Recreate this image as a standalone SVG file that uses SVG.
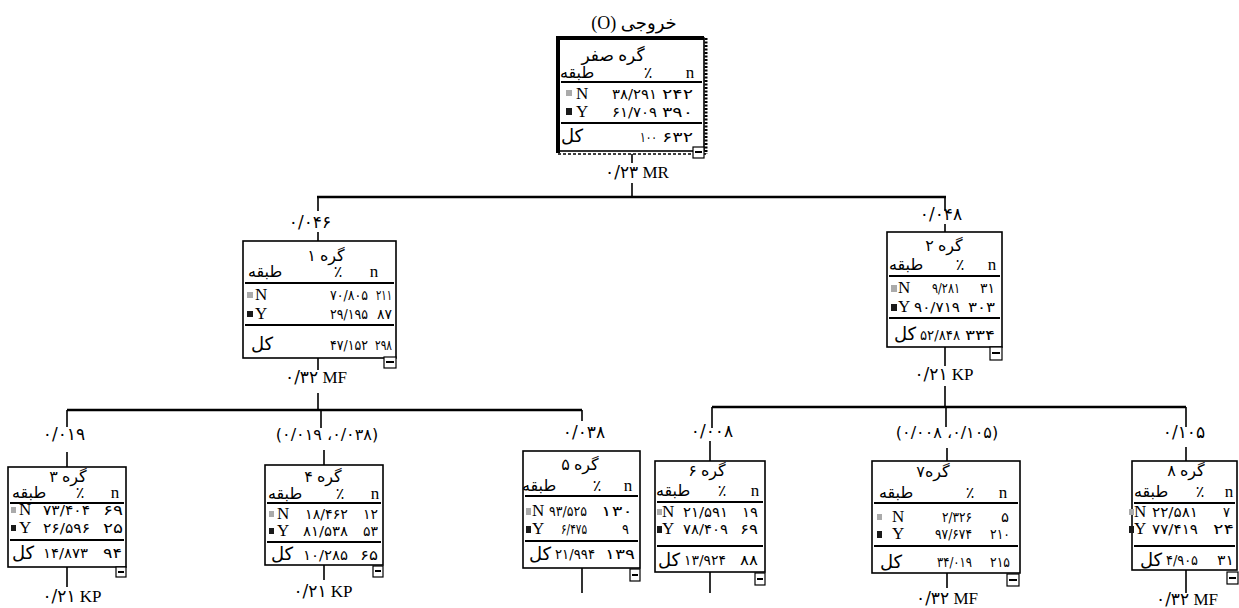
<svg xmlns="http://www.w3.org/2000/svg" width="1239" height="608" viewBox="0 0 1239 608">
<style>
.bx{fill:#fff;stroke:#000;stroke-width:1.6}
.ln{stroke:#000;stroke-width:2.2}
.cn{stroke:#000;stroke-width:1.6;fill:none}
.hz{stroke:#000;stroke-width:2.6;fill:none}
.lat{font-family:"Liberation Serif","DejaVu Sans",serif;font-size:17px;fill:#000}
.fa{font-family:"Liberation Serif","DejaVu Sans",serif;font-size:16px;fill:#000}
.kl{font-family:"Liberation Serif","DejaVu Sans",serif;font-size:18px;fill:#000}
.nm{font-family:"DejaVu Sans",sans-serif;font-size:14px;fill:#000}
.lb{font-family:"Liberation Serif","DejaVu Sans",serif;font-size:17px;fill:#000}
.dg{font-family:"DejaVu Sans",sans-serif;font-size:17px}
.sg{fill:#aaa}
.sb{fill:#1a1a1a}
.mn{fill:#fff;stroke:#000;stroke-width:1.2}
.mb{stroke:#000;stroke-width:2}
</style>

<g id="connectors">
<path class="cn" d="M632 154V163M632 183V197M318 197V211M318 232V241M945 197V211M945 224V232"/>
<path class="hz" d="M317 197H946"/>
<path class="cn" d="M318 358V370M318 393V410M945 347V366M945 386V407"/>
<path class="hz" d="M67 410H582M712 407H1186"/>
<path class="cn" d="M67 410V427M67 452V467M67 567V587"/>
<path class="cn" d="M321 410V428M324 450V465M324 565V580"/>
<path class="cn" d="M582 410V421M582 568V593"/>
<path class="cn" d="M712 407V428M710 441V461M710 572V593"/>
<path class="cn" d="M946 407V427M947 448V461M947 573V588"/>
<path class="cn" d="M1186 407V427M1186 447V461M1186 570V593"/>
</g>

<g id="labels">
<text class="lb" x="634" y="29" text-anchor="middle" direction="rtl" style="font-size:18px">خروجی (O)</text>
<text class="lb" x="637" y="178" text-anchor="middle"><tspan class="dg">۰/۲۳</tspan> MR</text>
<text class="lb dg" x="310" y="228" text-anchor="middle">۰/۰۴۶</text>
<text class="lb dg" x="941" y="220" text-anchor="middle">۰/۰۴۸</text>
<text class="lb" x="316" y="383" text-anchor="middle"><tspan class="dg">۰/۳۲</tspan> MF</text>
<text class="lb" x="944" y="380" text-anchor="middle"><tspan class="dg">۰/۲۱</tspan> KP</text>
<text class="lb dg" x="64" y="440" text-anchor="middle">۰/۰۱۹</text>
<text class="lb dg" x="327" y="440" text-anchor="middle" direction="rtl" style="font-size:16px">(۰/۰۳۸، ۰/۰۱۹)</text>
<text class="lb dg" x="584" y="438" text-anchor="middle">۰/۰۳۸</text>
<text class="lb dg" x="712" y="437" text-anchor="middle">۰/۰۰۸</text>
<text class="lb dg" x="947" y="438" text-anchor="middle" direction="rtl" style="font-size:16px">(۰/۱۰۵، ۰/۰۰۸)</text>
<text class="lb dg" x="1184" y="438" text-anchor="middle">۰/۱۰۵</text>
<text class="lb" x="72" y="602" text-anchor="middle"><tspan class="dg">۰/۲۱</tspan> KP</text>
<text class="lb" x="323" y="597" text-anchor="middle"><tspan class="dg">۰/۲۱</tspan> KP</text>
<text class="lb" x="947" y="604" text-anchor="middle"><tspan class="dg">۰/۳۲</tspan> MF</text>
<text class="lb" x="1187" y="605" text-anchor="middle"><tspan class="dg">۰/۳۲</tspan> MF</text>
</g>

<g id="node0">
<rect class="bx" x="558" y="38" width="146" height="113"/>
<path d="M558 153V38H704" fill="none" stroke="#000" stroke-width="4"/>
<path d="M706 38V154" fill="none" stroke="#000" stroke-width="3" stroke-dasharray="2 1.5"/>
<path d="M558 154H706" fill="none" stroke="#000" stroke-width="1.6" stroke-dasharray="3 2"/>
<text class="fa" x="613" y="61" text-anchor="middle" direction="rtl" style="font-size:17px">گره صفر</text>
<text class="fa" x="577" y="78" text-anchor="middle">طبقه</text>
<text class="fa" x="648" y="78" text-anchor="middle">٪</text>
<text class="lat" x="690" y="78" text-anchor="middle">n</text>
<line class="ln" x1="561" y1="82" x2="702" y2="82"/>
<rect class="sg" x="566" y="90" width="6" height="6"/>
<text class="lat" x="576" y="99">N</text>
<text class="nm" x="612" y="99" textLength="45" lengthAdjust="spacingAndGlyphs">۳۸/۲۹۱</text>
<text class="nm" x="662" y="99" textLength="31" lengthAdjust="spacingAndGlyphs">۲۴۲</text>
<rect class="sb" x="566" y="108" width="6" height="7"/>
<text class="lat" x="576" y="117">Y</text>
<text class="nm" x="612" y="117" textLength="45" lengthAdjust="spacingAndGlyphs">۶۱/۷۰۹</text>
<text class="nm" x="662" y="117" textLength="31" lengthAdjust="spacingAndGlyphs">۳۹۰</text>
<line class="ln" x1="561" y1="123" x2="702" y2="123"/>
<text class="kl" x="572" y="142" text-anchor="middle">کل</text>
<text class="nm" x="640" y="142" textLength="17" lengthAdjust="spacingAndGlyphs">۱۰۰</text>
<text class="nm" x="662" y="142" textLength="31" lengthAdjust="spacingAndGlyphs">۶۳۲</text>
<rect class="mn" x="693" y="147" width="11" height="11"/><line class="mb" x1="695" y1="152" x2="702" y2="152"/>
</g>

<g id="node1">
<rect class="bx" x="243" y="241" width="153" height="117"/>
<text class="fa" x="326" y="261" text-anchor="middle" direction="rtl">گره ۱</text>
<text class="fa" x="265" y="277" text-anchor="middle">طبقه</text>
<text class="fa" x="338" y="277" text-anchor="middle">٪</text>
<text class="lat" x="374" y="277" text-anchor="middle">n</text>
<line class="ln" x1="245" y1="283" x2="394" y2="283"/>
<rect class="sg" x="247" y="292" width="6" height="6"/>
<text class="lat" x="255" y="300">N</text>
<text class="nm" x="330" y="300" textLength="38" lengthAdjust="spacingAndGlyphs">۷۰/۸۰۵</text>
<text class="nm" x="376" y="300" textLength="16" lengthAdjust="spacingAndGlyphs">۲۱۱</text>
<rect class="sb" x="247" y="311" width="6" height="6"/>
<text class="lat" x="255" y="319">Y</text>
<text class="nm" x="330" y="319" textLength="38" lengthAdjust="spacingAndGlyphs">۲۹/۱۹۵</text>
<text class="nm" x="377" y="319" textLength="15" lengthAdjust="spacingAndGlyphs">۸۷</text>
<line class="ln" x1="245" y1="325" x2="394" y2="325"/>
<text class="kl" x="262" y="350" text-anchor="middle">کل</text>
<text class="nm" x="330" y="350" textLength="38" lengthAdjust="spacingAndGlyphs">۴۷/۱۵۲</text>
<text class="nm" x="375" y="350" textLength="17" lengthAdjust="spacingAndGlyphs">۲۹۸</text>
<rect class="mn" x="384" y="357" width="12" height="11"/><line class="mb" x1="386" y1="362" x2="394" y2="362"/>
</g>

<g id="node2">
<rect class="bx" x="887" y="232" width="115" height="115"/>
<text class="fa" x="944" y="251" text-anchor="middle" direction="rtl">گره ۲</text>
<text class="fa" x="906" y="270" text-anchor="middle">طبقه</text>
<text class="fa" x="960" y="270" text-anchor="middle">٪</text>
<text class="lat" x="992" y="270" text-anchor="middle">n</text>
<line class="ln" x1="889" y1="276" x2="1000" y2="276"/>
<rect class="sg" x="891" y="285" width="6" height="7"/>
<text class="lat" x="898" y="293">N</text>
<text class="nm" x="932" y="293" textLength="28" lengthAdjust="spacingAndGlyphs">۹/۲۸۱</text>
<text class="nm" x="980" y="293" textLength="15" lengthAdjust="spacingAndGlyphs">۳۱</text>
<rect class="sb" x="891" y="304" width="6" height="7"/>
<text class="lat" x="898" y="312">Y</text>
<text class="nm" x="914" y="312" textLength="46" lengthAdjust="spacingAndGlyphs">۹۰/۷۱۹</text>
<text class="nm" x="968" y="312" textLength="27" lengthAdjust="spacingAndGlyphs">۳۰۳</text>
<line class="ln" x1="889" y1="318" x2="1000" y2="318"/>
<text class="kl" x="905" y="340" text-anchor="middle">کل</text>
<text class="nm" x="920" y="340" textLength="40" lengthAdjust="spacingAndGlyphs">۵۲/۸۴۸</text>
<text class="nm" x="965" y="340" textLength="30" lengthAdjust="spacingAndGlyphs">۳۳۴</text>
<rect class="mn" x="990" y="347" width="12" height="13"/><line class="mb" x1="992" y1="353" x2="1000" y2="353"/>
</g>

<g id="node3">
<rect class="bx" x="8" y="467" width="118" height="100"/>
<text class="fa" x="68" y="482" text-anchor="middle" direction="rtl">گره ۳</text>
<text class="fa" x="29" y="498" text-anchor="middle">طبقه</text>
<text class="fa" x="80" y="498" text-anchor="middle">٪</text>
<text class="lat" x="115" y="498" text-anchor="middle">n</text>
<line class="ln" x1="10" y1="503" x2="124" y2="503"/>
<rect class="sg" x="11" y="507" width="5" height="6"/>
<text class="lat" x="19" y="515">N</text>
<text class="nm" x="43" y="515" textLength="47" lengthAdjust="spacingAndGlyphs">۷۳/۴۰۴</text>
<text class="nm" x="103" y="515" textLength="20" lengthAdjust="spacingAndGlyphs">۶۹</text>
<rect class="sb" x="11" y="525" width="5" height="6"/>
<text class="lat" x="19" y="533">Y</text>
<text class="nm" x="43" y="533" textLength="47" lengthAdjust="spacingAndGlyphs">۲۶/۵۹۶</text>
<text class="nm" x="103" y="533" textLength="20" lengthAdjust="spacingAndGlyphs">۲۵</text>
<line class="ln" x1="10" y1="540" x2="124" y2="540"/>
<text class="kl" x="23" y="559" text-anchor="middle">کل</text>
<text class="nm" x="43" y="558" textLength="45" lengthAdjust="spacingAndGlyphs">۱۴/۸۷۳</text>
<text class="nm" x="103" y="558" textLength="19" lengthAdjust="spacingAndGlyphs">۹۴</text>
<rect class="mn" x="116" y="567" width="10" height="10"/><line class="mb" x1="118" y1="572" x2="124" y2="572"/>
</g>

<g id="node4">
<rect class="bx" x="265" y="465" width="118" height="100"/>
<text class="fa" x="323" y="482" text-anchor="middle" direction="rtl">گره ۴</text>
<text class="fa" x="285" y="499" text-anchor="middle">طبقه</text>
<text class="fa" x="340" y="499" text-anchor="middle">٪</text>
<text class="lat" x="375" y="499" text-anchor="middle">n</text>
<line class="ln" x1="267" y1="503" x2="381" y2="503"/>
<rect class="sg" x="269" y="511" width="5" height="6"/>
<text class="lat" x="277" y="519">N</text>
<text class="nm" x="305" y="519" textLength="43" lengthAdjust="spacingAndGlyphs">۱۸/۴۶۲</text>
<text class="nm" x="363" y="519" textLength="15" lengthAdjust="spacingAndGlyphs">۱۲</text>
<rect class="sb" x="269" y="528" width="5" height="6"/>
<text class="lat" x="277" y="536">Y</text>
<text class="nm" x="303" y="536" textLength="45" lengthAdjust="spacingAndGlyphs">۸۱/۵۳۸</text>
<text class="nm" x="363" y="536" textLength="15" lengthAdjust="spacingAndGlyphs">۵۳</text>
<line class="ln" x1="267" y1="542" x2="381" y2="542"/>
<text class="kl" x="282" y="560" text-anchor="middle">کل</text>
<text class="nm" x="303" y="560" textLength="45" lengthAdjust="spacingAndGlyphs">۱۰/۲۸۵</text>
<text class="nm" x="360" y="560" textLength="18" lengthAdjust="spacingAndGlyphs">۶۵</text>
<rect class="mn" x="373" y="566" width="10" height="11"/><line class="mb" x1="375" y1="571" x2="381" y2="571"/>
</g>

<g id="node5">
<rect class="bx" x="523" y="451" width="117" height="117"/>
<text class="fa" x="580" y="470" text-anchor="middle" direction="rtl">گره ۵</text>
<text class="fa" x="539" y="491" text-anchor="middle">طبقه</text>
<text class="fa" x="597" y="491" text-anchor="middle">٪</text>
<text class="lat" x="628" y="491" text-anchor="middle">n</text>
<line class="ln" x1="525" y1="496" x2="638" y2="496"/>
<rect class="sg" x="526" y="508" width="5" height="7"/>
<text class="lat" x="532" y="516">N</text>
<text class="nm" x="549" y="516" textLength="38" lengthAdjust="spacingAndGlyphs">۹۳/۵۲۵</text>
<text class="nm" x="601" y="516" textLength="32" lengthAdjust="spacingAndGlyphs">۱۳۰</text>
<rect class="sb" x="526" y="526" width="5" height="7"/>
<text class="lat" x="532" y="534">Y</text>
<text class="nm" x="561" y="534" textLength="26" lengthAdjust="spacingAndGlyphs">۶/۴۷۵</text>
<text class="nm" x="622" y="534" textLength="7" lengthAdjust="spacingAndGlyphs">۹</text>
<line class="ln" x1="525" y1="541" x2="638" y2="541"/>
<text class="kl" x="540" y="560" text-anchor="middle">کل</text>
<text class="nm" x="555" y="559" textLength="40" lengthAdjust="spacingAndGlyphs">۲۱/۹۹۴</text>
<text class="nm" x="605" y="559" textLength="30" lengthAdjust="spacingAndGlyphs">۱۳۹</text>
<rect class="mn" x="630" y="569" width="10" height="12"/><line class="mb" x1="632" y1="575" x2="638" y2="575"/>
</g>

<g id="node6">
<rect class="bx" x="655" y="461" width="110" height="111"/>
<text class="fa" x="707" y="476" text-anchor="middle" direction="rtl">گره ۶</text>
<text class="fa" x="673" y="496" text-anchor="middle">طبقه</text>
<text class="fa" x="722" y="496" text-anchor="middle">٪</text>
<text class="lat" x="755" y="496" text-anchor="middle">n</text>
<line class="ln" x1="657" y1="502" x2="763" y2="502"/>
<rect class="sg" x="657" y="509" width="5" height="6"/>
<text class="lat" x="662" y="517">N</text>
<text class="nm" x="683" y="517" textLength="45" lengthAdjust="spacingAndGlyphs">۲۱/۵۹۱</text>
<text class="nm" x="742" y="517" textLength="16" lengthAdjust="spacingAndGlyphs">۱۹</text>
<rect class="sb" x="657" y="526" width="5" height="7"/>
<text class="lat" x="662" y="534">Y</text>
<text class="nm" x="683" y="534" textLength="45" lengthAdjust="spacingAndGlyphs">۷۸/۴۰۹</text>
<text class="nm" x="740" y="534" textLength="18" lengthAdjust="spacingAndGlyphs">۶۹</text>
<line class="ln" x1="657" y1="546" x2="763" y2="546"/>
<text class="kl" x="669" y="566" text-anchor="middle">کل</text>
<text class="nm" x="684" y="565" textLength="42" lengthAdjust="spacingAndGlyphs">۱۳/۹۲۴</text>
<text class="nm" x="740" y="565" textLength="18" lengthAdjust="spacingAndGlyphs">۸۸</text>
<rect class="mn" x="755" y="573" width="10" height="12"/><line class="mb" x1="757" y1="579" x2="763" y2="579"/>
</g>

<g id="node7">
<rect class="bx" x="872" y="461" width="148" height="112"/>
<text class="fa" x="933" y="477" text-anchor="middle" direction="rtl">گره۷</text>
<text class="fa" x="896" y="498" text-anchor="middle">طبقه</text>
<text class="fa" x="970" y="498" text-anchor="middle">٪</text>
<text class="lat" x="1003" y="498" text-anchor="middle">n</text>
<line class="ln" x1="874" y1="503" x2="1018" y2="503"/>
<rect class="sg" x="877" y="514" width="5" height="6"/>
<text class="lat" x="892" y="522">N</text>
<text class="nm" x="942" y="522" textLength="30" lengthAdjust="spacingAndGlyphs">۲/۳۲۶</text>
<text class="nm" x="1001" y="522" textLength="8" lengthAdjust="spacingAndGlyphs">۵</text>
<rect class="sb" x="877" y="531" width="5" height="7"/>
<text class="lat" x="892" y="539">Y</text>
<text class="nm" x="935" y="539" textLength="37" lengthAdjust="spacingAndGlyphs">۹۷/۶۷۴</text>
<text class="nm" x="990" y="539" textLength="20" lengthAdjust="spacingAndGlyphs">۲۱۰</text>
<line class="ln" x1="874" y1="546" x2="1018" y2="546"/>
<text class="kl" x="891" y="568" text-anchor="middle">کل</text>
<text class="nm" x="937" y="567" textLength="35" lengthAdjust="spacingAndGlyphs">۳۴/۰۱۹</text>
<text class="nm" x="990" y="567" textLength="20" lengthAdjust="spacingAndGlyphs">۲۱۵</text>
<rect class="mn" x="1007" y="574" width="12" height="12"/><line class="mb" x1="1009" y1="580" x2="1017" y2="580"/>
</g>

<g id="node8">
<rect class="bx" x="1132" y="461" width="105" height="109"/>
<text class="fa" x="1186" y="476" text-anchor="middle" direction="rtl">گره ۸</text>
<text class="fa" x="1151" y="497" text-anchor="middle">طبقه</text>
<text class="fa" x="1200" y="497" text-anchor="middle">٪</text>
<text class="lat" x="1229" y="497" text-anchor="middle">n</text>
<line class="ln" x1="1134" y1="503" x2="1235" y2="503"/>
<rect class="sg" x="1129" y="509" width="5" height="6"/>
<text class="lat" x="1134" y="517">N</text>
<text class="nm" x="1152" y="517" textLength="46" lengthAdjust="spacingAndGlyphs">۲۲/۵۸۱</text>
<text class="nm" x="1223" y="517" textLength="7" lengthAdjust="spacingAndGlyphs">۷</text>
<rect class="sb" x="1129" y="526" width="5" height="7"/>
<text class="lat" x="1134" y="534">Y</text>
<text class="nm" x="1152" y="534" textLength="46" lengthAdjust="spacingAndGlyphs">۷۷/۴۱۹</text>
<text class="nm" x="1213" y="534" textLength="21" lengthAdjust="spacingAndGlyphs">۲۴</text>
<line class="ln" x1="1134" y1="546" x2="1235" y2="546"/>
<text class="kl" x="1151" y="566" text-anchor="middle">کل</text>
<text class="nm" x="1166" y="565" textLength="32" lengthAdjust="spacingAndGlyphs">۴/۹۰۵</text>
<text class="nm" x="1217" y="565" textLength="17" lengthAdjust="spacingAndGlyphs">۳۱</text>
<rect class="mn" x="1227" y="572" width="11" height="12"/><line class="mb" x1="1229" y1="578" x2="1236" y2="578"/>
</g>
</svg>
